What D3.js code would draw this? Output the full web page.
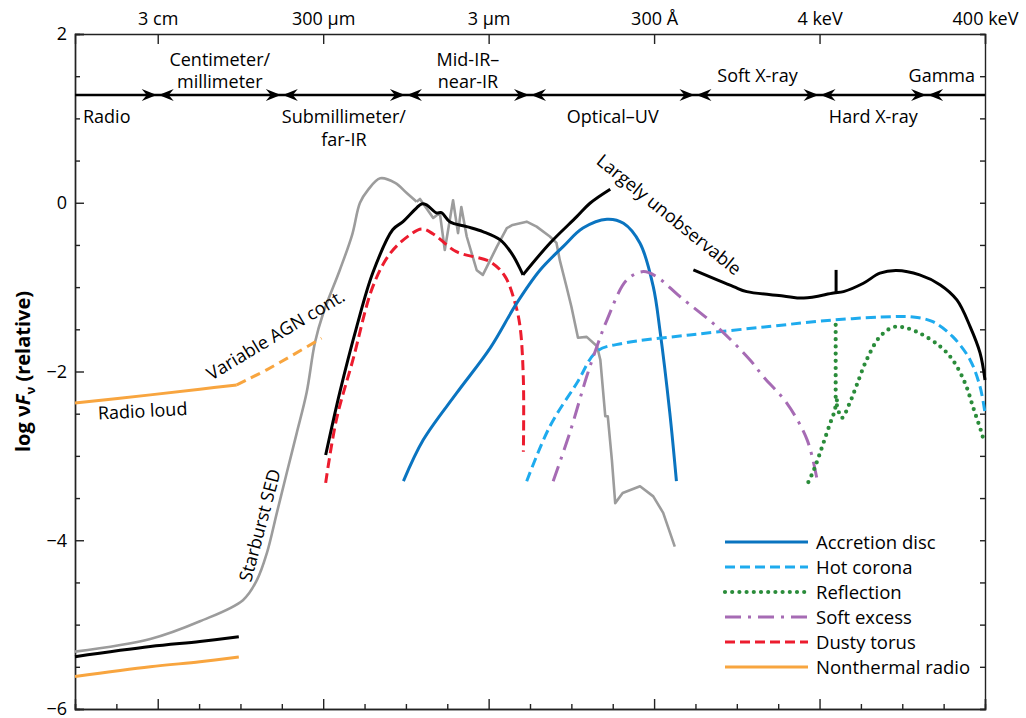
<!DOCTYPE html>
<html>
<head>
<meta charset="utf-8" />
<script src="https://d3js.org/d3.v7.min.js"></script>
<style>
  body { margin: 0; background: #fff; }
  text { font-family: "Open Sans", sans-serif; fill: #000; }
  .axis path, .axis line { stroke: #222; stroke-width: 1.4px; }
  .curve { fill: none; stroke-linejoin: round; }
</style>
</head>
<body>
<svg id="chart" width="1026" height="718"></svg>
<script>

// x = log10 frequency (Hz), y = log nuFnu (relative)
var topTickValues = [10, 12, 14, 16, 18, 20];
var topTickLabels = ["3 cm", "300 µm", "3 µm", "300 Å", "4 keV", "400 keV"];

var bandEdges = [9, 10, 11.5, 13, 14.5, 16.5, 18, 19.3, 20];
var bandNames = [
  ["Radio"], ["Centimeter/", "millimeter"], ["Submillimeter/", "far-IR"], ["Mid-IR–", "near-IR"],
  ["Optical–UV"], ["Soft X-ray"], ["Hard X-ray"], ["Gamma"]
];

// starburst SED: smooth rise, then jagged mid-IR part
var starburstLow = [[9.0,-5.32],[9.91,-5.17],[10.51,-4.96],[11.03,-4.71],[11.20,-4.47],[11.32,-4.15],
  [11.44,-3.675],[11.56,-3.20],[11.68,-2.73],[11.80,-2.25],[11.90,-1.66],[12.0,-1.31],[12.20,-0.80],
  [12.35,-0.38],[12.445,0.0],[12.54,0.15],[12.69,0.29],[12.87,0.235],[13.01,0.116],[13.13,0.013]];
var starburstHigh = [[13.13,0.013],[13.17,0.045],[13.33,-0.18],[13.41,-0.12],[13.47,-0.56],[13.57,0.03],[13.63,-0.36],
  [13.67,-0.05],[13.735,-0.40],[13.856,-0.80],[13.93,-0.855],[13.98,-0.757],[14.10,-0.52],[14.22,-0.30],
  [14.29,-0.263],[14.46,-0.224],[14.58,-0.283],[14.74,-0.40],[14.82,-0.476],[14.86,-0.68],[14.94,-0.99],
  [15.00,-1.23],[15.08,-1.60],[15.185,-1.59],[15.31,-1.70],[15.35,-1.86],[15.41,-2.53],[15.44,-2.53],
  [15.49,-3.05],[15.53,-3.56],[15.62,-3.44],[15.83,-3.36],[15.99,-3.48],[16.11,-3.675],[16.25,-4.075]];

var agnRadio = [[9.0,-5.38],[9.91,-5.26],[10.51,-5.20],[10.98,-5.145]];
var agnIR = [[12.03,-2.99],[12.20,-2.25],[12.405,-1.47],[12.60,-0.83],[12.84,-0.32],[12.965,-0.224],[13.13,-0.06],
  [13.19,-0.014],[13.25,-0.026],[13.37,-0.12],[13.43,-0.117],[13.53,-0.224],[13.735,-0.283],[13.93,-0.342],
  [14.14,-0.44],[14.29,-0.618],[14.415,-0.855]];
var agnUV = [[14.415,-0.855],[14.74,-0.48],[15.065,-0.165],[15.225,-0.006],[15.47,0.16]];
var agnXray = [[16.475,-0.796],[16.96,-0.994],[17.12,-1.053],[17.56,-1.104],[17.81,-1.13],[18.17,-1.07],
  [18.29,-1.053],[18.53,-0.954],[18.73,-0.835],[18.93,-0.804],[19.21,-0.855],[19.46,-0.974],[19.66,-1.152],
  [19.82,-1.468],[19.94,-1.78],[20.0,-2.1]];
var agnIronLine = [[18.2,-1.07],[18.2,-0.796]];

var dustyTorus = [[12.03,-3.32],[12.16,-2.57],[12.36,-1.86],[12.60,-0.994],[12.81,-0.60],[13.05,-0.38],
  [13.19,-0.31],[13.33,-0.37],[13.61,-0.58],[14.02,-0.70],[14.20,-0.876],[14.32,-1.19],[14.38,-1.47],
  [14.42,-2.10],[14.42,-2.95]];

var accretionDisc = [[12.97,-3.30],[13.21,-2.81],[13.61,-2.26],[14.02,-1.72],[14.34,-1.19],[14.62,-0.80],
  [14.90,-0.52],[15.14,-0.30],[15.43,-0.195],[15.63,-0.243],[15.83,-0.48],[15.99,-0.994],[16.07,-1.507],
  [16.19,-2.49],[16.27,-3.30]];

var hotCorona = [[14.46,-3.30],[14.74,-2.65],[15.065,-2.14],[15.31,-1.76],[15.63,-1.665],[16.43,-1.567],
  [17.36,-1.47],[18.16,-1.39],[18.89,-1.35],[19.13,-1.353],[19.37,-1.41],[19.61,-1.587],[19.82,-1.863],
  [19.94,-2.18],[20.0,-2.49]];

var softExcess = [[14.78,-3.30],[14.98,-2.73],[15.185,-2.06],[15.31,-1.70],[15.43,-1.39],[15.67,-0.915],
  [15.87,-0.816],[16.03,-0.876],[16.31,-1.11],[16.76,-1.47],[17.16,-1.863],[17.32,-2.06],[17.60,-2.37],
  [17.85,-2.81],[17.97,-3.28]];

var reflectionLow = [[17.865,-3.31],[17.93,-3.17],[17.99,-3.01],[18.06,-2.81],[18.13,-2.61],[18.175,-2.49],[18.21,-2.34]];
var reflectionLine = [[18.195,-2.30],[18.195,-1.37]];
var reflectionHump = [[18.21,-2.40],[18.27,-2.55],[18.37,-2.36],[18.45,-2.16],[18.57,-1.86],[18.73,-1.587],
  [18.89,-1.475],[19.01,-1.475],[19.21,-1.546],[19.46,-1.705],[19.61,-1.863],[19.76,-2.14],[19.86,-2.435],
  [19.96,-2.73],[19.99,-2.84]];

var radioQuiet = [[9.0,-5.615],[9.91,-5.50],[10.51,-5.44],[10.98,-5.385]];
var radioLoud = [[9.0,-2.372],[9.91,-2.277],[10.51,-2.21],[10.955,-2.159]];
var radioLoudVar = [[10.955,-2.159],[11.075,-2.10],[11.317,-1.98],[11.60,-1.823],[11.98,-1.605]];

var legendNames = ["Accretion disc", "Hot corona", "Reflection", "Soft excess", "Dusty torus", "Nonthermal radio"];

// styles
var styles = {
  gray:   { color: "#9c9c9c", width: 2.6, dash: null },
  black:  { color: "#000000", width: 3, dash: null },
  "Accretion disc":   { color: "#0a74c0", width: 3, dash: null },
  "Hot corona":       { color: "#1eabee", width: 3, dash: "10 5" },
  "Reflection":       { color: "#2a8c3a", width: 4.2, dash: "0 7.2", cap: "round" },
  "Soft excess":      { color: "#a66bb4", width: 3, dash: "16 7 3 7" },
  "Dusty torus":      { color: "#ec1c2e", width: 3, dash: "10 5" },
  "Nonthermal radio": { color: "#f8a53f", width: 3, dash: null },
  radioVar:           { color: "#f8a53f", width: 3, dash: "10 6" }
};

var svg = d3.select("#chart");
var plotLeft = 75, plotRight = 985, plotTop = 34, plotBottom = 709;

var x = d3.scaleLinear().domain([9, 20]).range([plotLeft, plotRight]);
var y = d3.scaleLinear().domain([-6, 2]).range([plotBottom, plotTop]);

var smooth = d3.line().x(function(d) { return x(d[0]); }).y(function(d) { return y(d[1]); })
  .curve(d3.curveCatmullRom.alpha(0.5));
var straight = d3.line().x(function(d) { return x(d[0]); }).y(function(d) { return y(d[1]); });

function drawCurve(data, style, lineGen) {
  var p = svg.append("path")
    .attr("class", "curve")
    .attr("d", (lineGen || smooth)(data))
    .attr("stroke", style.color)
    .attr("stroke-width", style.width)
    .attr("stroke-linecap", style.cap || "butt");
  if (style.dash) p.attr("stroke-dasharray", style.dash);
  return p;
}

// axes
var fmt = function(d) { return d < 0 ? "\u2212" + Math.abs(d) : d; };
var halfSteps = d3.range(-6, 2.01, 0.5);
var majorY = [-6, -4, -2, 0, 2];

svg.append("g").attr("class", "axis")
  .attr("transform", "translate(" + plotLeft + ",0)")
  .call(d3.axisLeft(y).tickValues(halfSteps.filter(function(d) { return majorY.indexOf(d) < 0; }))
    .tickSize(-5).tickFormat(""));
svg.append("g").attr("class", "axis yMajor")
  .attr("transform", "translate(" + plotLeft + ",0)")
  .call(d3.axisLeft(y).tickValues(majorY).tickSize(-9).tickPadding(8).tickFormat(fmt));
svg.append("g").attr("class", "axis")
  .attr("transform", "translate(" + plotRight + ",0)")
  .call(d3.axisRight(y).tickValues(halfSteps).tickSize(-5).tickFormat(""));

var xHalf = d3.range(9, 20.01, 0.5);
var majorX = [10, 12, 14, 16, 18, 20];
svg.append("g").attr("class", "axis")
  .attr("transform", "translate(0," + plotBottom + ")")
  .call(d3.axisBottom(x).tickValues(xHalf.filter(function(d) { return majorX.indexOf(d) < 0; }))
    .tickSize(-5).tickFormat(""));
svg.append("g").attr("class", "axis")
  .attr("transform", "translate(0," + plotBottom + ")")
  .call(d3.axisBottom(x).tickValues(majorX).tickSize(-10).tickFormat(""));
svg.append("g").attr("class", "axis xTop")
  .attr("transform", "translate(0," + plotTop + ")")
  .call(d3.axisTop(x).tickValues(topTickValues).tickSize(-10).tickPadding(9)
    .tickFormat(function(d, i) { return topTickLabels[i]; }));

svg.selectAll(".axis text").attr("font-size", 18).attr("font-family", "Open Sans, sans-serif").attr("fill", "#000");
svg.selectAll(".axis path.domain").attr("stroke-width", 1.6);

// y label
var yl = svg.append("text")
  .attr("transform", "translate(30," + ((plotTop + plotBottom) / 2) + ") rotate(-90)")
  .attr("text-anchor", "middle")
  .attr("font-size", 20)
  .attr("font-weight", "bold");
yl.append("tspan").text("log ν");
yl.append("tspan").attr("font-style", "italic").text("F");
yl.append("tspan").attr("font-size", 13).attr("dy", 5).text("ν");
yl.append("tspan").attr("dy", -5).text(" (relative)");

// band arrows
var arrowY = 95;
svg.append("line")
  .attr("x1", x(9)).attr("x2", x(20))
  .attr("y1", arrowY).attr("y2", arrowY)
  .attr("stroke", "#000").attr("stroke-width", 2.6);

function arrowHead(tipX, dir) {
  var len = 15, hw = 6, notch = 10;
  return "M" + tipX + "," + arrowY +
    "L" + (tipX - dir * len) + "," + (arrowY - hw) +
    "L" + (tipX - dir * notch) + "," + arrowY +
    "L" + (tipX - dir * len) + "," + (arrowY + hw) + "Z";
}
var innerEdges = bandEdges.slice(1, -1);
innerEdges.forEach(function(e) {
  svg.append("path").attr("d", arrowHead(x(e) - 1, 1)).attr("fill", "#000");
  svg.append("path").attr("d", arrowHead(x(e) + 1, -1)).attr("fill", "#000");
});

bandNames.forEach(function(lines, i) {
  var below = i % 2 === 0;
  var cx = x((bandEdges[i] + bandEdges[i + 1]) / 2);
  var anchor = "middle";
  if (i === 0) { cx = x(bandEdges[0]) + 8; anchor = "start"; }
  if (i === bandNames.length - 1) { cx = x(bandEdges[i + 1]) - 10; anchor = "end"; }
  var t = svg.append("text").attr("text-anchor", anchor).attr("font-size", 18);
  lines.forEach(function(s, j) {
    var yy;
    if (below) yy = 123 + j * 23;
    else yy = lines.length === 2 ? 66 + j * 22 : 82;
    t.append("tspan").attr("x", cx).attr("y", yy).text(s);
  });
});

// curves
drawCurve(starburstLow, styles.gray);
drawCurve(starburstHigh, styles.gray, straight);
drawCurve(radioQuiet, styles["Nonthermal radio"]);
drawCurve(radioLoud, styles["Nonthermal radio"]);
drawCurve(radioLoudVar, styles.radioVar);
drawCurve(dustyTorus, styles["Dusty torus"]);
drawCurve(accretionDisc, styles["Accretion disc"]);
drawCurve(hotCorona, styles["Hot corona"]);
drawCurve(softExcess, styles["Soft excess"]);
drawCurve(reflectionLow, styles["Reflection"]);
drawCurve(reflectionLine, styles["Reflection"], straight);
drawCurve(reflectionHump, styles["Reflection"]);
drawCurve(agnRadio, styles.black);
drawCurve(agnIR, styles.black);
drawCurve(agnUV, styles.black);
drawCurve(agnXray, styles.black);
drawCurve(agnIronLine, styles.black, straight);

// annotations
function note(txt, nu, v, angle) {
  svg.append("text")
    .attr("transform", "translate(" + x(nu) + "," + y(v) + ") rotate(" + angle + ")")
    .attr("font-size", 18)
    .text(txt);
}
note("Radio loud", 9.28, -2.57, -3);
note("Variable AGN cont.", 10.65, -2.11, -31);
note("Starburst SED", 11.127, -4.505, -75);
note("Largely unobservable", 15.29, 0.47, 39);

// legend
var legX1 = 725, legX2 = 808, legY0 = 542, legStep = 25;
legendNames.forEach(function(name, i) {
  var st = styles[name];
  var ly = legY0 + i * legStep;
  var l = svg.append("line")
    .attr("x1", legX1).attr("x2", legX2).attr("y1", ly).attr("y2", ly)
    .attr("stroke", st.color).attr("stroke-width", st.width)
    .attr("stroke-linecap", st.cap || "butt");
  if (st.dash) l.attr("stroke-dasharray", st.dash);
  svg.append("text").attr("x", 816).attr("y", ly + 6.5).attr("font-size", 18.5).text(name);
});

</script>
</body>
</html>
